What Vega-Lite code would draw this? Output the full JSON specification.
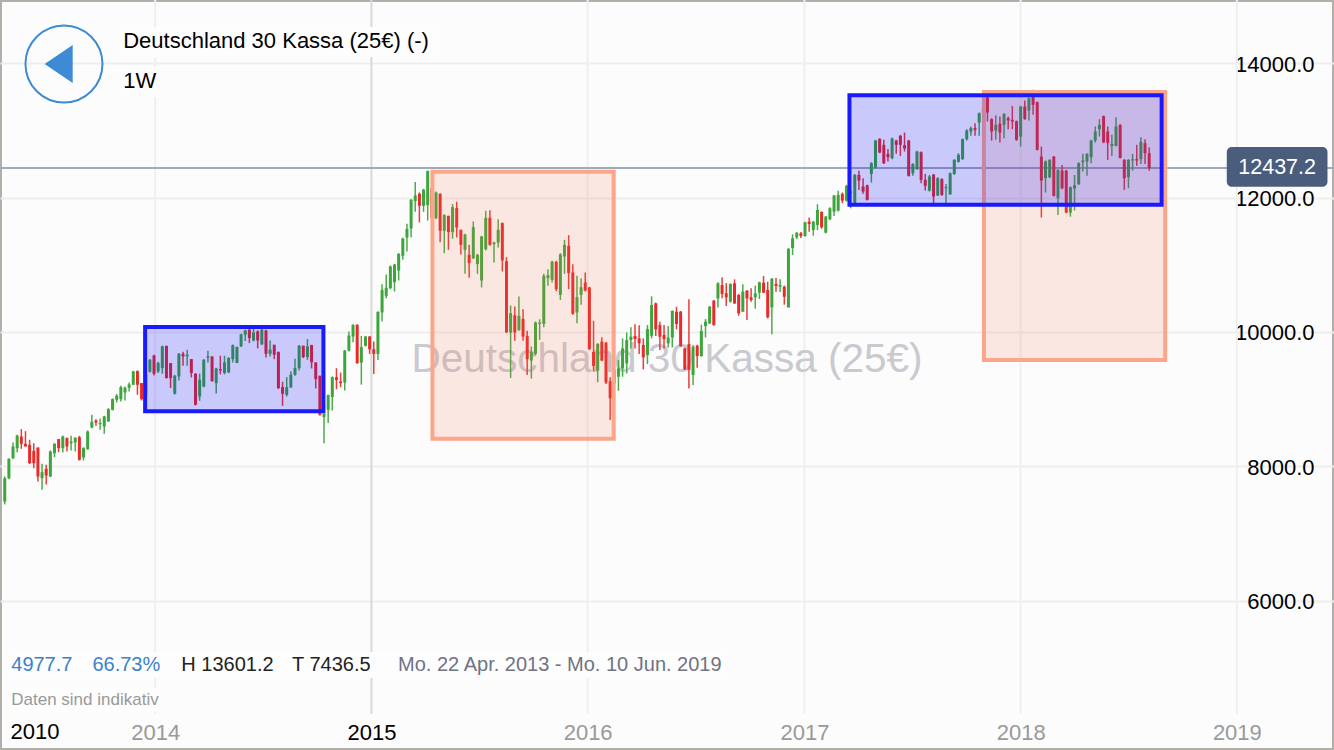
{"$schema":"https://vega.github.io/schema/vega-lite/v6.json","width":1334,"height":750,"autosize":"none","padding":0,"background":"#fcfcfc","config":{"view":{"stroke":"#b0b0a8","strokeWidth":4},"text":{"font":"Liberation Sans"}},
"datasets":{"candles":[
{"date":"2013-04-22","open":7479,"high":7851,"low":7436,"close":7826},{"date":"2013-04-29","open":7826,"high":8124,"low":7812,"close":8114},{"date":"2013-05-06","open":8124,"high":8357,"low":8109,"close":8298},{"date":"2013-05-13","open":8273,"high":8471,"low":8213,"close":8461},{"date":"2013-05-20","open":8446,"high":8556,"low":8263,"close":8337},{"date":"2013-05-27","open":8337,"high":8526,"low":8298,"close":8298},
{"date":"2013-06-03","open":8322,"high":8397,"low":8035,"close":8050},{"date":"2013-06-10","open":8233,"high":8347,"low":7975,"close":8050},{"date":"2013-06-17","open":8283,"high":8283,"low":7777,"close":7851},{"date":"2013-06-24","open":7826,"high":8040,"low":7653,"close":7916},
{"date":"2013-07-01","open":7965,"high":8025,"low":7732,"close":7866},{"date":"2013-07-08","open":7851,"high":8238,"low":7841,"close":8223},{"date":"2013-07-15","open":8198,"high":8347,"low":8139,"close":8337},{"date":"2013-07-22","open":8407,"high":8407,"low":8213,"close":8273},{"date":"2013-07-29","open":8273,"high":8461,"low":8208,"close":8446},
{"date":"2013-08-05","open":8422,"high":8431,"low":8223,"close":8298},{"date":"2013-08-12","open":8347,"high":8456,"low":8238,"close":8372},{"date":"2013-08-19","open":8357,"high":8436,"low":8223,"close":8427},{"date":"2013-08-26","open":8436,"high":8456,"low":8089,"close":8099},
{"date":"2013-09-02","open":8134,"high":8288,"low":8089,"close":8273},{"date":"2013-09-09","open":8258,"high":8536,"low":8248,"close":8521},{"date":"2013-09-16","open":8580,"high":8769,"low":8570,"close":8665},{"date":"2013-09-23","open":8684,"high":8704,"low":8605,"close":8655},{"date":"2013-09-30","open":8630,"high":8714,"low":8546,"close":8645},
{"date":"2013-10-07","open":8595,"high":8754,"low":8486,"close":8744},{"date":"2013-10-14","open":8670,"high":8868,"low":8665,"close":8853},{"date":"2013-10-21","open":8843,"high":9012,"low":8833,"close":9002},{"date":"2013-10-28","open":8992,"high":9076,"low":8952,"close":9052},
{"date":"2013-11-04","open":9002,"high":9200,"low":8967,"close":9180},{"date":"2013-11-11","open":9101,"high":9190,"low":8982,"close":9171},{"date":"2013-11-18","open":9171,"high":9250,"low":9116,"close":9220},{"date":"2013-11-25","open":9215,"high":9424,"low":9215,"close":9414},
{"date":"2013-12-02","open":9419,"high":9428,"low":9066,"close":9215},{"date":"2013-12-09","open":9240,"high":9240,"low":8982,"close":9002},{"date":"2013-12-16","open":9066,"high":9414,"low":9042,"close":9364},{"date":"2013-12-23","open":9409,"high":9597,"low":9399,"close":9587},{"date":"2013-12-30","open":9652,"high":9662,"low":9354,"close":9379},
{"date":"2014-01-06","open":9414,"high":9557,"low":9389,"close":9538},{"date":"2014-01-13","open":9463,"high":9796,"low":9379,"close":9786},{"date":"2014-01-20","open":9791,"high":9800,"low":9309,"close":9314},{"date":"2014-01-27","open":9538,"high":9538,"low":9166,"close":9314},
{"date":"2014-02-03","open":9081,"high":9364,"low":9071,"close":9349},{"date":"2014-02-10","open":9339,"high":9686,"low":9280,"close":9676},{"date":"2014-02-17","open":9676,"high":9706,"low":9498,"close":9637},{"date":"2014-02-24","open":9637,"high":9736,"low":9498,"close":9662},
{"date":"2014-03-03","open":9597,"high":9597,"low":9324,"close":9389},{"date":"2014-03-10","open":9379,"high":9389,"low":8908,"close":8918},{"date":"2014-03-17","open":9042,"high":9379,"low":8977,"close":9290},{"date":"2014-03-24","open":9190,"high":9597,"low":9180,"close":9587},{"date":"2014-03-31","open":9617,"high":9721,"low":9548,"close":9637},
{"date":"2014-04-07","open":9637,"high":9637,"low":9260,"close":9270},{"date":"2014-04-14","open":9240,"high":9468,"low":9086,"close":9458},{"date":"2014-04-21","open":9448,"high":9647,"low":9369,"close":9428},{"date":"2014-04-28","open":9389,"high":9647,"low":9369,"close":9548},
{"date":"2014-05-05","open":9399,"high":9627,"low":9389,"close":9612},{"date":"2014-05-12","open":9597,"high":9815,"low":9548,"close":9805},{"date":"2014-05-19","open":9538,"high":9786,"low":9538,"close":9776},{"date":"2014-05-26","open":9786,"high":9974,"low":9776,"close":9964},
{"date":"2014-06-02","open":9959,"high":10034,"low":9865,"close":10024},{"date":"2014-06-09","open":10034,"high":10044,"low":9835,"close":9910},{"date":"2014-06-16","open":9875,"high":10053,"low":9860,"close":9994},{"date":"2014-06-23","open":10009,"high":10024,"low":9756,"close":9875},{"date":"2014-06-30","open":9815,"high":10044,"low":9805,"close":10034},
{"date":"2014-07-07","open":10024,"high":10034,"low":9622,"close":9676},{"date":"2014-07-14","open":9676,"high":9875,"low":9637,"close":9736},{"date":"2014-07-21","open":9810,"high":9810,"low":9597,"close":9662},{"date":"2014-07-28","open":9701,"high":9711,"low":9151,"close":9166},
{"date":"2014-08-04","open":9180,"high":9260,"low":8903,"close":9081},{"date":"2014-08-11","open":9066,"high":9329,"low":9042,"close":9180},{"date":"2014-08-18","open":9176,"high":9414,"low":9166,"close":9364},{"date":"2014-08-25","open":9364,"high":9602,"low":9349,"close":9463},
{"date":"2014-09-01","open":9463,"high":9805,"low":9428,"close":9796},{"date":"2014-09-08","open":9796,"high":9796,"low":9612,"close":9627},{"date":"2014-09-15","open":9627,"high":9895,"low":9587,"close":9786},{"date":"2014-09-22","open":9805,"high":9810,"low":9458,"close":9548},{"date":"2014-09-29","open":9548,"high":9548,"low":9161,"close":9300},
{"date":"2014-10-06","open":9349,"high":9349,"low":8754,"close":8769},{"date":"2014-10-13","open":8734,"high":8794,"low":8347,"close":8784},{"date":"2014-10-20","open":8843,"high":9071,"low":8645,"close":9061},{"date":"2014-10-27","open":9032,"high":9339,"low":8833,"close":9329},
{"date":"2014-11-03","open":9327,"high":9461,"low":9149,"close":9288},{"date":"2014-11-10","open":9263,"high":9397,"low":9178,"close":9238},{"date":"2014-11-17","open":9248,"high":9734,"low":9129,"close":9724},{"date":"2014-11-24","open":9724,"high":10007,"low":9709,"close":9947},
{"date":"2014-12-01","open":9932,"high":10116,"low":9848,"close":10106},{"date":"2014-12-08","open":10106,"high":10116,"low":9526,"close":9536},{"date":"2014-12-15","open":9546,"high":9942,"low":9218,"close":9774},{"date":"2014-12-22","open":9794,"high":9942,"low":9784,"close":9932},{"date":"2014-12-29","open":9932,"high":9942,"low":9674,"close":9744},
{"date":"2015-01-05","open":9744,"high":9858,"low":9377,"close":9674},{"date":"2015-01-12","open":9674,"high":10309,"low":9585,"close":10299},{"date":"2015-01-19","open":10290,"high":10711,"low":10156,"close":10627},{"date":"2015-01-26","open":10538,"high":10855,"low":10503,"close":10657},
{"date":"2015-02-02","open":10652,"high":10989,"low":10637,"close":10974},{"date":"2015-02-09","open":10741,"high":11014,"low":10602,"close":11004},{"date":"2015-02-16","open":10914,"high":11172,"low":10766,"close":11162},{"date":"2015-02-23","open":11133,"high":11401,"low":11073,"close":11391},
{"date":"2015-03-02","open":11405,"high":11609,"low":11197,"close":11534},{"date":"2015-03-09","open":11539,"high":11976,"low":11410,"close":11966},{"date":"2015-03-16","open":11946,"high":12229,"low":11787,"close":12030},{"date":"2015-03-23","open":12055,"high":12075,"low":11629,"close":11877},{"date":"2015-03-30","open":11877,"high":12130,"low":11787,"close":12115},
{"date":"2015-04-06","open":11887,"high":12402,"low":11658,"close":12393},{"date":"2015-04-13","open":12140,"high":12164,"low":11658,"close":11693},{"date":"2015-04-20","open":11693,"high":12090,"low":11678,"close":12075},{"date":"2015-04-27","open":12055,"high":12065,"low":11336,"close":11505},
{"date":"2015-05-04","open":11505,"high":11753,"low":11172,"close":11738},{"date":"2015-05-11","open":11728,"high":11728,"low":11222,"close":11485},{"date":"2015-05-18","open":11485,"high":11902,"low":11386,"close":11857},{"date":"2015-05-25","open":11842,"high":11936,"low":11406,"close":11554},
{"date":"2015-06-01","open":11520,"high":11520,"low":11153,"close":11296},{"date":"2015-06-08","open":11222,"high":11460,"low":10865,"close":11450},{"date":"2015-06-15","open":11148,"high":11296,"low":10805,"close":11024},{"date":"2015-06-22","open":11098,"high":11644,"low":11083,"close":11559},{"date":"2015-06-29","open":11009,"high":11162,"low":10865,"close":11148},
{"date":"2015-07-06","open":10766,"high":11430,"low":10662,"close":11420},{"date":"2015-07-13","open":11232,"high":11802,"low":11212,"close":11698},{"date":"2015-07-20","open":11698,"high":11812,"low":11282,"close":11296},{"date":"2015-07-27","open":11306,"high":11341,"low":11034,"close":11331},
{"date":"2015-08-03","open":11331,"high":11678,"low":11257,"close":11520},{"date":"2015-08-10","open":11619,"high":11629,"low":10900,"close":11063},{"date":"2015-08-17","open":11053,"high":11113,"low":9992,"close":9992},{"date":"2015-08-24","open":9992,"high":10394,"low":9317,"close":10280},{"date":"2015-08-31","open":10250,"high":10379,"low":9868,"close":9992},
{"date":"2015-09-07","open":10027,"high":10528,"low":10017,"close":10240},{"date":"2015-09-14","open":10195,"high":10339,"low":9868,"close":9932},{"date":"2015-09-21","open":9942,"high":10017,"low":9362,"close":9595},{"date":"2015-09-28","open":9575,"high":9784,"low":9307,"close":9699},
{"date":"2015-10-05","open":9674,"high":10156,"low":9655,"close":10141},{"date":"2015-10-12","open":10121,"high":10190,"low":9883,"close":10141},{"date":"2015-10-19","open":10121,"high":10865,"low":10071,"close":10835},{"date":"2015-10-26","open":10800,"high":10934,"low":10686,"close":10845},
{"date":"2015-11-02","open":10776,"high":11058,"low":10736,"close":11048},{"date":"2015-11-09","open":11043,"high":11058,"low":10607,"close":10637},{"date":"2015-11-16","open":10552,"high":11172,"low":10478,"close":11153},{"date":"2015-11-23","open":11123,"high":11371,"low":10865,"close":11296},{"date":"2015-11-30","open":11282,"high":11440,"low":10637,"close":10875},
{"date":"2015-12-07","open":10885,"high":11009,"low":10255,"close":10270},{"date":"2015-12-14","open":10290,"high":10835,"low":10131,"close":10518},{"date":"2015-12-21","open":10552,"high":10800,"low":10404,"close":10666},{"date":"2015-12-28","open":10736,"high":10885,"low":10602,"close":10617},
{"date":"2016-01-04","open":10662,"high":10671,"low":9734,"close":9744},{"date":"2016-01-11","open":9704,"high":10166,"low":9412,"close":9496},{"date":"2016-01-18","open":9426,"high":9833,"low":9253,"close":9823},{"date":"2016-01-25","open":9858,"high":9923,"low":9565,"close":9575},
{"date":"2016-02-01","open":9843,"high":9848,"low":9228,"close":9248},{"date":"2016-02-08","open":9268,"high":9327,"low":8692,"close":9015},{"date":"2016-02-15","open":9236,"high":9479,"low":9037,"close":9434},{"date":"2016-02-22","open":9335,"high":9583,"low":9126,"close":9459},{"date":"2016-02-29","open":9459,"high":9905,"low":9335,"close":9756},
{"date":"2016-03-07","open":9533,"high":9994,"low":9384,"close":9880},{"date":"2016-03-14","open":9880,"high":10069,"low":9756,"close":9930},{"date":"2016-03-21","open":9940,"high":10114,"low":9756,"close":9895},{"date":"2016-03-28","open":9905,"high":10099,"low":9672,"close":9831},
{"date":"2016-04-04","open":9806,"high":9905,"low":9444,"close":9623},{"date":"2016-04-11","open":9657,"high":10104,"low":9523,"close":10044},{"date":"2016-04-18","open":9945,"high":10530,"low":9905,"close":10401},{"date":"2016-04-25","open":10426,"high":10436,"low":9940,"close":10039},
{"date":"2016-05-02","open":10104,"high":10153,"low":9732,"close":9930},{"date":"2016-05-09","open":9955,"high":10104,"low":9756,"close":9895},{"date":"2016-05-16","open":9831,"high":10089,"low":9771,"close":9915},{"date":"2016-05-23","open":9920,"high":10322,"low":9771,"close":10312},{"date":"2016-05-30","open":10302,"high":10376,"low":10039,"close":10118},
{"date":"2016-06-06","open":10302,"high":10312,"low":9781,"close":9791},{"date":"2016-06-13","open":9756,"high":9766,"low":9434,"close":9444},{"date":"2016-06-20","open":9821,"high":10486,"low":9161,"close":9434},{"date":"2016-06-27","open":9360,"high":9806,"low":9211,"close":9781},
{"date":"2016-07-04","open":9796,"high":9811,"low":9469,"close":9642},{"date":"2016-07-11","open":9642,"high":10109,"low":9632,"close":10014},{"date":"2016-07-18","open":10089,"high":10193,"low":9920,"close":10153},{"date":"2016-07-25","open":10128,"high":10386,"low":10118,"close":10376},
{"date":"2016-08-01","open":10466,"high":10476,"low":10094,"close":10104},{"date":"2016-08-08","open":10500,"high":10738,"low":10366,"close":10724},{"date":"2016-08-15","open":10699,"high":10813,"low":10500,"close":10565},{"date":"2016-08-22","open":10575,"high":10724,"low":10386,"close":10515},{"date":"2016-08-29","open":10451,"high":10724,"low":10436,"close":10714},
{"date":"2016-09-05","open":10724,"high":10783,"low":10416,"close":10426},{"date":"2016-09-12","open":10550,"high":10565,"low":10242,"close":10277},{"date":"2016-09-19","open":10302,"high":10709,"low":10302,"close":10600},{"date":"2016-09-26","open":10614,"high":10624,"low":10178,"close":10500},
{"date":"2016-10-03","open":10515,"high":10649,"low":10451,"close":10476},{"date":"2016-10-10","open":10515,"high":10689,"low":10347,"close":10575},{"date":"2016-10-17","open":10585,"high":10748,"low":10490,"close":10738},{"date":"2016-10-24","open":10734,"high":10833,"low":10585,"close":10585},{"date":"2016-10-31","open":10624,"high":10748,"low":10203,"close":10218},
{"date":"2016-11-07","open":10366,"high":10803,"low":9965,"close":10793},{"date":"2016-11-14","open":10714,"high":10803,"low":10600,"close":10684},{"date":"2016-11-21","open":10674,"high":10783,"low":10595,"close":10699},{"date":"2016-11-28","open":10674,"high":10689,"low":10406,"close":10525},
{"date":"2016-12-05","open":10366,"high":11244,"low":10361,"close":11239},{"date":"2016-12-12","open":11249,"high":11453,"low":11145,"close":11393},{"date":"2016-12-19","open":11408,"high":11482,"low":11383,"close":11478},{"date":"2016-12-26","open":11468,"high":11487,"low":11398,"close":11428},
{"date":"2017-01-02","open":11428,"high":11641,"low":11418,"close":11631},{"date":"2017-01-09","open":11641,"high":11701,"low":11492,"close":11606},{"date":"2017-01-16","open":11517,"high":11651,"low":11433,"close":11641},{"date":"2017-01-23","open":11592,"high":11899,"low":11517,"close":11815},{"date":"2017-01-30","open":11785,"high":11795,"low":11537,"close":11557},
{"date":"2017-02-06","open":11478,"high":11726,"low":11468,"close":11716},{"date":"2017-02-13","open":11676,"high":11854,"low":11666,"close":11840},{"date":"2017-02-20","open":11790,"high":12038,"low":11726,"close":12028},{"date":"2017-02-27","open":11805,"high":12102,"low":11790,"close":12038},
{"date":"2017-03-06","open":12054,"high":12074,"low":11915,"close":11954},{"date":"2017-03-13","open":11954,"high":12188,"low":11940,"close":12173},{"date":"2017-03-20","open":12064,"high":12113,"low":11840,"close":12088},{"date":"2017-03-27","open":11915,"high":12351,"low":11890,"close":12336},
{"date":"2017-04-03","open":12336,"high":12396,"low":12113,"close":12252},{"date":"2017-04-10","open":12163,"high":12287,"low":12054,"close":12088},{"date":"2017-04-17","open":12183,"high":12188,"low":11954,"close":11964},{"date":"2017-04-24","open":12351,"high":12525,"low":12222,"close":12510},
{"date":"2017-05-01","open":12446,"high":12857,"low":12426,"close":12847},{"date":"2017-05-08","open":12872,"high":12882,"low":12659,"close":12669},{"date":"2017-05-15","open":12783,"high":12857,"low":12500,"close":12510},{"date":"2017-05-22","open":12649,"high":12723,"low":12535,"close":12599},{"date":"2017-05-29","open":12584,"high":12892,"low":12570,"close":12877},
{"date":"2017-06-05","open":12847,"high":12857,"low":12649,"close":12783},{"date":"2017-06-12","open":12917,"high":12932,"low":12619,"close":12783},{"date":"2017-06-19","open":12778,"high":12966,"low":12684,"close":12728},{"date":"2017-06-26","open":12847,"high":12857,"low":12312,"close":12322},
{"date":"2017-07-03","open":12361,"high":12510,"low":12322,"close":12500},{"date":"2017-07-10","open":12421,"high":12694,"low":12411,"close":12684},{"date":"2017-07-17","open":12674,"high":12684,"low":12212,"close":12262},{"date":"2017-07-24","open":12262,"high":12351,"low":12103,"close":12173},{"date":"2017-07-31","open":12103,"high":12336,"low":12088,"close":12312},
{"date":"2017-08-07","open":12341,"high":12351,"low":11915,"close":12014},{"date":"2017-08-14","open":12029,"high":12302,"low":12024,"close":12287},{"date":"2017-08-21","open":12272,"high":12287,"low":12024,"close":12039},{"date":"2017-08-28","open":12138,"high":12202,"low":11890,"close":12153},
{"date":"2017-09-04","open":12049,"high":12371,"low":12039,"close":12361},{"date":"2017-09-11","open":12351,"high":12570,"low":12336,"close":12560},{"date":"2017-09-18","open":12530,"high":12659,"low":12520,"close":12634},{"date":"2017-09-25","open":12570,"high":12877,"low":12560,"close":12867},
{"date":"2017-10-02","open":12867,"high":13016,"low":12847,"close":12996},{"date":"2017-10-09","open":12981,"high":13056,"low":12917,"close":13031},{"date":"2017-10-16","open":13031,"high":13105,"low":12917,"close":13006},{"date":"2017-10-23","open":13115,"high":13264,"low":12917,"close":13254},{"date":"2017-10-30","open":13254,"high":13378,"low":13105,"close":13304},
{"date":"2017-11-06","open":13492,"high":13527,"low":13130,"close":13264},{"date":"2017-11-13","open":13165,"high":13180,"low":12847,"close":12981},{"date":"2017-11-20","open":12996,"high":13224,"low":12857,"close":13080},{"date":"2017-11-27","open":13095,"high":13204,"low":12818,"close":12966},
{"date":"2017-12-04","open":13080,"high":13254,"low":12882,"close":13244},{"date":"2017-12-11","open":13180,"high":13204,"low":13016,"close":13145},{"date":"2017-12-18","open":13155,"high":13363,"low":13016,"close":13130},{"date":"2017-12-25","open":13135,"high":13145,"low":12842,"close":12857},
{"date":"2018-01-01","open":12907,"high":13363,"low":12758,"close":13353},{"date":"2018-01-08","open":13353,"high":13442,"low":13155,"close":13165},{"date":"2018-01-15","open":13294,"high":13492,"low":13145,"close":13477},{"date":"2018-01-22","open":13502,"high":13601,"low":13229,"close":13378},{"date":"2018-01-29","open":13418,"high":13428,"low":12698,"close":12708},
{"date":"2018-02-05","open":12609,"high":12758,"low":11702,"close":12252},{"date":"2018-02-12","open":12287,"high":12550,"low":12074,"close":12535},{"date":"2018-02-19","open":12302,"high":12570,"low":12287,"close":12560},{"date":"2018-02-26","open":12609,"high":12619,"low":12014,"close":12024},
{"date":"2018-03-05","open":11989,"high":12421,"low":11741,"close":12411},{"date":"2018-03-12","open":12401,"high":12485,"low":12123,"close":12138},{"date":"2018-03-19","open":12401,"high":12411,"low":11766,"close":11776},{"date":"2018-03-26","open":11776,"high":12163,"low":11716,"close":12153},
{"date":"2018-04-02","open":12133,"high":12336,"low":11806,"close":12183},{"date":"2018-04-09","open":12198,"high":12525,"low":12188,"close":12510},{"date":"2018-04-16","open":12525,"high":12649,"low":12386,"close":12550},{"date":"2018-04-23","open":12535,"high":12659,"low":12322,"close":12649},{"date":"2018-04-30","open":12599,"high":12857,"low":12510,"close":12847},
{"date":"2018-05-07","open":12847,"high":13056,"low":12818,"close":12981},{"date":"2018-05-14","open":13016,"high":13165,"low":12907,"close":13080},{"date":"2018-05-21","open":13209,"high":13219,"low":12808,"close":12818},{"date":"2018-05-28","open":12981,"high":13056,"low":12560,"close":12808},
{"date":"2018-06-04","open":12768,"high":12932,"low":12619,"close":12798},{"date":"2018-06-11","open":12768,"high":13194,"low":12758,"close":13056},{"date":"2018-06-18","open":13080,"high":13090,"low":12579,"close":12589},{"date":"2018-06-25","open":12560,"high":12570,"low":12113,"close":12287},
{"date":"2018-07-02","open":12302,"high":12570,"low":12138,"close":12560},{"date":"2018-07-09","open":12550,"high":12649,"low":12401,"close":12570},{"date":"2018-07-16","open":12570,"high":12783,"low":12470,"close":12550},{"date":"2018-07-23","open":12570,"high":12897,"low":12500,"close":12827},{"date":"2018-07-30","open":12808,"high":12867,"low":12500,"close":12659},
{"date":"2018-08-06","open":12659,"high":12748,"low":12396,"close":12437}
]},
"layer":[
{"data":{"values":[{"date":"2014-01-01","v":14937,"v2":4320,"major":false},{"date":"2015-01-01","v":14937,"v2":4320,"major":true},{"date":"2016-01-01","v":14937,"v2":4320,"major":false},{"date":"2017-01-01","v":14937,"v2":4320,"major":false},{"date":"2018-01-01","v":14937,"v2":4320,"major":false},{"date":"2019-01-01","v":14937,"v2":4320,"major":false}]},
"mark":{"type":"rule","strokeWidth":2},
"encoding":{"x":{"field":"date","type":"temporal","title":null,"scale":{"domain":["2013-04-14","2019-06-14"],"padding":0},"axis":{"values":[{"year":2014},{"year":2015},{"year":2016},{"year":2017},{"year":2018},{"year":2019}],"format":"%Y","grid":false,"ticks":false,"domain":false,"labelFont":"Liberation Sans","labelFontSize":22,"labelPadding":-18,"labelBaseline":"middle","labelAlign":"center","labelFlush":false,"labelOverlap":false,"zindex":1,"labelColor":{"condition":{"test":"year(datum.value)===2015","value":"#000000"},"value":"#999999"}}},
"y":{"field":"v","type":"quantitative","title":null,"scale":{"domain":[3784,14937],"nice":false,"zero":false},"axis":{"orient":"right","values":[6000,8000,10000,12000,14000],"format":".1f","grid":true,"gridColor":"#eeeeee","gridWidth":2,"ticks":false,"domain":false,"labelFont":"Liberation Sans","labelFontSize":22,"labelColor":"#000000","labelAlign":"right","labelPadding":-20,"labelBaseline":"middle","labelOffset":1}},
"y2":{"field":"v2"},
"stroke":{"condition":{"test":"datum.major","value":"#d9d9d9"},"value":"#efefef"}}},
{"data":{"values":[{"date":"2013-04-28","date2":"2016-08-20","v":5241,"v2":4855},{"date":"2013-04-28","date2":"2014-01-09","v":4706,"v2":4349},{"date":"2013-10-30","date2":"2015-04-22","v":14535,"v2":14089},{"date":"2013-10-30","date2":"2014-01-09","v":13941,"v2":13494}]},
"mark":{"type":"rect","fill":"#fdfdfd"},
"encoding":{"x":{"field":"date","type":"temporal","title":null},"x2":{"field":"date2"},"y":{"field":"v","type":"quantitative","title":null},"y2":{"field":"v2"}}},
{"data":{"values":[{"date":"2016-05-14","v":9584,"label":"Deutschland 30 Kassa (25€)"}]},
"mark":{"type":"text","fontSize":40.5,"color":"#c9c9d0","align":"center","baseline":"middle"},
"encoding":{"x":{"field":"date","type":"temporal","title":null},"y":{"field":"v","type":"quantitative","title":null},"text":{"field":"label"}}},
{"data":{"values":[{"v":12437.2}]},"mark":{"type":"rule","stroke":"#a0abba","strokeWidth":2},"encoding":{"y":{"field":"v","type":"quantitative","title":null}}},
{"data":{"name":"candles"},"mark":{"type":"rule","strokeWidth":1.5},
"encoding":{"x":{"field":"date","type":"temporal","title":null},"y":{"field":"high","type":"quantitative","title":null},"y2":{"field":"low"},"stroke":{"condition":{"test":"datum.close>=datum.open","value":"#4caa4c"},"value":"#ec3a3a"}}},
{"data":{"name":"candles"},"mark":{"type":"bar","size":3},
"encoding":{"x":{"field":"date","type":"temporal","title":null},"y":{"field":"open","type":"quantitative","title":null},"y2":{"field":"close"},"fill":{"condition":{"test":"datum.close>=datum.open","value":"#3ca53c"},"value":"#e92a2a"}}},
{"data":{"values":[{"date":"2015-04-14","date2":"2016-02-14","v":12384,"v2":8413},{"date":"2017-10-31","date2":"2018-09-02","v":13569,"v2":9584}]},
"mark":{"type":"rect","fill":"#f5744a","fillOpacity":0.15,"stroke":"#fba58a","strokeWidth":4},
"encoding":{"x":{"field":"date","type":"temporal","title":null},"x2":{"field":"date2"},"y":{"field":"v","type":"quantitative","title":null},"y2":{"field":"v2"}}},
{"data":{"values":[{"date":"2013-12-15","date2":"2014-10-12","v":10074,"v2":8821},{"date":"2017-03-18","date2":"2018-08-27","v":13520,"v2":11893}]},
"mark":{"type":"rect","fill":"#0000ff","fillOpacity":0.2,"stroke":"#1a1aff","strokeWidth":4},
"encoding":{"x":{"field":"date","type":"temporal","title":null},"x2":{"field":"date2"},"y":{"field":"v","type":"quantitative","title":null},"y2":{"field":"v2"}}},
{"data":{"values":[{"date":"2018-12-15","date2":"2019-06-03","v":12751,"v2":12161}]},
"mark":{"type":"bar","fill":"#4a5d7c","cornerRadius":5},
"encoding":{"x":{"field":"date","type":"temporal","title":null},"x2":{"field":"date2"},"y":{"field":"v","type":"quantitative","title":null},"y2":{"field":"v2"}}},
{"data":{"values":[{"date":"2019-03-10","v":12437,"label":"12437.2"}]},
"mark":{"type":"text","fontSize":21.5,"color":"#ffffff","align":"center","baseline":"middle"},
"encoding":{"x":{"field":"date","type":"temporal","title":null},"y":{"field":"v","type":"quantitative","title":null},"text":{"field":"label"}}},
{"data":{"values":[{"date":"2013-07-31","v":13985}]},
"mark":{"type":"point","shape":"circle","filled":false,"size":5929,"stroke":"#3d8bd4","strokeWidth":2,"opacity":1},
"encoding":{"x":{"field":"date","type":"temporal","title":null},"y":{"field":"v","type":"quantitative","title":null}}},
{"data":{"values":[{"date":"2013-07-22","v":13985}]},
"mark":{"type":"point","shape":"M-0.74,0L0.74,-1L0.74,1Z","filled":true,"size":1444,"fill":"#3d8bd4","opacity":1},
"encoding":{"x":{"field":"date","type":"temporal","title":null},"y":{"field":"v","type":"quantitative","title":null}}},
{"data":{"values":[{"date":"2013-11-08","v":14327,"label":"Deutschland 30 Kassa (25€) (-)"},{"date":"2013-11-08","v":13732,"label":"1W"}]},
"mark":{"type":"text","fontSize":22,"color":"#000000","align":"left","baseline":"middle"},
"encoding":{"x":{"field":"date","type":"temporal","title":null},"y":{"field":"v","type":"quantitative","title":null},"text":{"field":"label"}}},
{"data":{"values":[{"date":"2013-05-03","v":5048,"label":"4977.7"},{"date":"2013-09-17","v":5048,"label":"66.73%"}]},
"mark":{"type":"text","fontSize":20,"color":"#3a82c8","align":"left","baseline":"middle"},
"encoding":{"x":{"field":"date","type":"temporal","title":null},"y":{"field":"v","type":"quantitative","title":null},"text":{"field":"label"}}},
{"data":{"values":[{"date":"2014-02-14","v":5048,"label":"H 13601.2"},{"date":"2014-08-20","v":5048,"label":"T 7436.5"}]},
"mark":{"type":"text","fontSize":20,"color":"#222222","align":"left","baseline":"middle"},
"encoding":{"x":{"field":"date","type":"temporal","title":null},"y":{"field":"v","type":"quantitative","title":null},"text":{"field":"label"}}},
{"data":{"values":[{"date":"2015-02-15","v":5048,"label":"Mo. 22 Apr. 2013 - Mo. 10 Jun. 2019"}]},
"mark":{"type":"text","fontSize":20,"color":"#6f7383","align":"left","baseline":"middle"},
"encoding":{"x":{"field":"date","type":"temporal","title":null},"y":{"field":"v","type":"quantitative","title":null},"text":{"field":"label"}}},
{"data":{"values":[{"date":"2013-05-03","v":4527,"label":"Daten sind indikativ"}]},
"mark":{"type":"text","fontSize":17,"color":"#999999","align":"left","baseline":"middle"},
"encoding":{"x":{"field":"date","type":"temporal","title":null},"y":{"field":"v","type":"quantitative","title":null},"text":{"field":"label"}}},
{"data":{"values":[{"date":"2013-06-12","v":4052,"label":"2010"}]},
"mark":{"type":"text","fontSize":22,"color":"#000000","align":"center","baseline":"middle"},
"encoding":{"x":{"field":"date","type":"temporal","title":null},"y":{"field":"v","type":"quantitative","title":null},"text":{"field":"label"}}}
]}
